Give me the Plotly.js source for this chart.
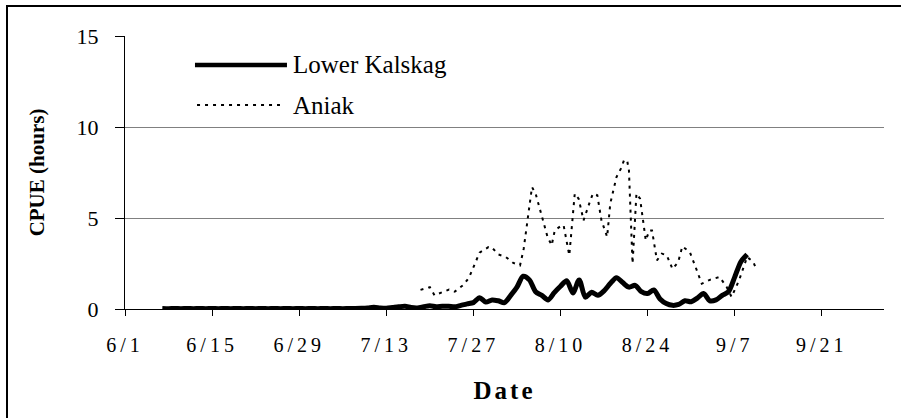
<!DOCTYPE html>
<html>
<head>
<meta charset="utf-8">
<script src="https://cdn.plot.ly/plotly-3.0.1.min.js"></script>
<style>
  html, body { margin: 0; padding: 0; background: #fff; overflow: hidden; }
  #wrap { position: relative; width: 901px; height: 418px; }
  #chart { width: 901px; height: 418px; }
  #frame { position: absolute; left: 6px; top: 5px; width: 920px; height: 440px;
           border-left: 2px solid #000; border-top: 2px solid #000; pointer-events: none; }
  .xtick text { letter-spacing: 4px; }
  .g-xtitle text { letter-spacing: 3px; }
</style>
</head>
<body>
<div id="wrap">
  <div id="chart"></div>
  <div id="frame"></div>
</div>
<script>
// ---- data ----
const kalskagDates = [
  '2000-06-07','2000-06-08','2000-06-09','2000-06-10','2000-06-11','2000-06-12','2000-06-13','2000-06-14',
  '2000-06-15','2000-06-16','2000-06-17','2000-06-18','2000-06-19','2000-06-20','2000-06-21','2000-06-22',
  '2000-06-23','2000-06-24','2000-06-25','2000-06-26','2000-06-27','2000-06-28','2000-06-29','2000-06-30',
  '2000-07-01','2000-07-02','2000-07-03','2000-07-04','2000-07-05','2000-07-06','2000-07-07','2000-07-08',
  '2000-07-09','2000-07-10','2000-07-11','2000-07-12','2000-07-13','2000-07-14','2000-07-15','2000-07-16',
  '2000-07-17','2000-07-18','2000-07-19','2000-07-20','2000-07-21','2000-07-22','2000-07-23','2000-07-24',
  '2000-07-25','2000-07-26','2000-07-27','2000-07-28','2000-07-29','2000-07-30','2000-07-31',
  '2000-08-01','2000-08-02','2000-08-03','2000-08-04','2000-08-05','2000-08-06','2000-08-07','2000-08-08',
  '2000-08-09','2000-08-10','2000-08-11','2000-08-12','2000-08-13','2000-08-14','2000-08-15','2000-08-16',
  '2000-08-17','2000-08-18','2000-08-19','2000-08-20','2000-08-21','2000-08-22','2000-08-23','2000-08-24',
  '2000-08-25','2000-08-26','2000-08-27','2000-08-28','2000-08-29','2000-08-30','2000-08-31',
  '2000-09-01','2000-09-02','2000-09-03','2000-09-04','2000-09-05','2000-09-06','2000-09-07','2000-09-08',
  '2000-09-09'
];
const kalskagCPUE = [
  0.03,0.02,0.03,0.02,0.03,0.02,0.03,0.02,
  0.03,0.02,0.03,0.02,0.03,0.02,0.03,0.02,
  0.03,0.02,0.03,0.02,0.03,0.02,0.03,0.02,
  0.03,0.02,0.03,0.02,0.03,0.02,0.03,0.03,
  0.04,0.06,0.10,0.06,0.04,0.08,0.12,0.15,
  0.08,0.06,0.12,0.18,0.12,0.15,0.15,0.12,
  0.20,0.28,0.35,0.62,0.38,0.50,0.45,
  0.35,0.75,1.20,1.80,1.60,0.95,0.75,0.50,
  0.90,1.25,1.55,0.88,1.60,0.65,0.92,0.75,
  1.00,1.40,1.72,1.45,1.20,1.30,0.95,0.85,
  1.05,0.55,0.30,0.20,0.25,0.45,0.40,
  0.60,0.85,0.45,0.50,0.75,0.95,1.75,2.60,
  3.00
];
const aniakDates = [
  '2000-07-18 12:00','2000-07-20 00:00','2000-07-20 18:00','2000-07-21 22:00','2000-07-23 02:00',
  '2000-07-24 00:00','2000-07-25 10:00','2000-07-26 07:00','2000-07-28 00:00','2000-07-29 10:00',
  '2000-07-29 22:00','2000-07-31 00:00','2000-08-01 05:00','2000-08-02 10:00','2000-08-03 12:00',
  '2000-08-04 02:00','2000-08-05 10:00','2000-08-06 00:00','2000-08-07 05:00','2000-08-07 22:00',
  '2000-08-08 14:00','2000-08-09 02:00','2000-08-10 05:00','2000-08-10 12:00','2000-08-11 10:00',
  '2000-08-12 07:00','2000-08-12 22:00','2000-08-13 17:00','2000-08-14 17:00','2000-08-15 05:00',
  '2000-08-15 22:00','2000-08-16 14:00','2000-08-17 12:00','2000-08-18 00:00','2000-08-19 00:00',
  '2000-08-19 17:00','2000-08-20 05:00','2000-08-20 17:00','2000-08-21 00:00','2000-08-21 14:00',
  '2000-08-22 05:00','2000-08-22 19:00','2000-08-23 17:00','2000-08-24 07:00','2000-08-24 17:00',
  '2000-08-25 12:00','2000-08-26 07:00','2000-08-27 02:00','2000-08-28 00:00','2000-08-28 22:00',
  '2000-08-29 14:00','2000-08-30 19:00','2000-08-31 22:00','2000-09-01 17:00','2000-09-03 00:00',
  '2000-09-04 14:00','2000-09-05 17:00','2000-09-06 12:00','2000-09-07 17:00','2000-09-09 00:00',
  '2000-09-10 00:00','2000-09-10 12:00'
];
const aniakCPUE = [
  1.05,1.20,0.75,0.90,1.07,
  0.95,1.33,1.72,3.10,3.40,
  3.40,3.00,2.86,2.53,2.40,
  3.30,6.70,6.34,4.87,3.96,
  3.50,4.32,4.60,4.60,2.95,
  6.34,6.06,4.87,5.88,6.34,
  6.25,4.87,3.96,5.79,7.25,
  7.71,8.17,8.17,7.62,2.49,
  6.34,6.06,3.77,4.32,4.32,
  2.67,3.04,2.95,2.20,2.58,
  3.44,3.13,2.12,1.39,1.60,
  1.76,1.21,0.66,1.58,2.86,
  2.58,2.16
];
const seriesNames = ['Lower Kalskag', 'Aniak'];
const xTickVals = ['2000-06-01','2000-06-15','2000-06-29','2000-07-13','2000-07-27','2000-08-10','2000-08-24','2000-09-07','2000-09-21'];
const xTickText = ['6/1','6/15','6/29','7/13','7/27','8/10','8/24','9/7','9/21'];
const yTickVals = [0, 5, 10, 15];

const FAM = 'Times New Roman';
const FAMB = 'Tinos';

const traces = [
  { x: kalskagDates, y: kalskagCPUE, name: seriesNames[0], type: 'scatter', mode: 'lines',
    line: { color: '#000', width: 5, shape: 'spline', smoothing: 0.8 }, showlegend: false },
  { x: aniakDates, y: aniakCPUE, name: seriesNames[1], type: 'scatter', mode: 'lines',
    line: { color: '#000', width: 2, dash: '3px,5px' }, showlegend: false }
];

const layout = {
  width: 901, height: 418,
  margin: { l: 125, r: 17, t: 36, b: 109 },
  showlegend: false,
  xaxis: {
    type: 'date', range: ['2000-06-01', '2000-10-01'],
    tickmode: 'array', tickvals: xTickVals, ticktext: xTickText,
    ticks: 'outside', ticklen: 6, tickwidth: 1, tickcolor: '#000',
    showline: true, linecolor: '#000', linewidth: 1, showgrid: false, zeroline: false,
    tickfont: { family: FAM, size: 20, color: '#000' }, ticklabelstandoff: 12,
    title: { text: 'Date', font: { family: FAMB, size: 25, color: '#000', weight: 'bold' }, standoff: 26 }
  },
  yaxis: {
    range: [0, 15], tickmode: 'array', tickvals: yTickVals,
    ticks: 'outside', ticklen: 9, tickwidth: 1, tickcolor: '#000',
    showline: true, linecolor: '#000', linewidth: 1,
    showgrid: true, gridcolor: '#808080', gridwidth: 1, zeroline: false,
    tickfont: { family: FAM, size: 22, color: '#000' }, ticklabelstandoff: 12,
    title: { text: 'CPUE (hours)', font: { family: FAMB, size: 21, color: '#000', weight: 'bold' }, standoff: 26 }
  },
  shapes: [
    { type: 'line', xref: 'paper', yref: 'paper', x0: 0.0922, x1: 0.2134, y0: 0.8938, y1: 0.8938,
      line: { color: '#000', width: 4.5 } },
    { type: 'line', xref: 'paper', yref: 'paper', x0: 0.0949, x1: 0.2042, y0: 0.747, y1: 0.747,
      line: { color: '#000', width: 2, dash: '3px,5px' } }
  ],
  annotations: [
    { xref: 'paper', yref: 'paper', x: 0.219, y: 0.8938, xanchor: 'left', yanchor: 'middle',
      text: seriesNames[0], showarrow: false, font: { family: FAM, size: 25, color: '#000' } },
    { xref: 'paper', yref: 'paper', x: 0.219, y: 0.747, xanchor: 'left', yanchor: 'middle',
      text: seriesNames[1], showarrow: false, font: { family: FAM, size: 25, color: '#000' } }
  ]
};

Plotly.newPlot('chart', traces, layout, { staticPlot: true, displayModeBar: false });
</script>
</body>
</html>
